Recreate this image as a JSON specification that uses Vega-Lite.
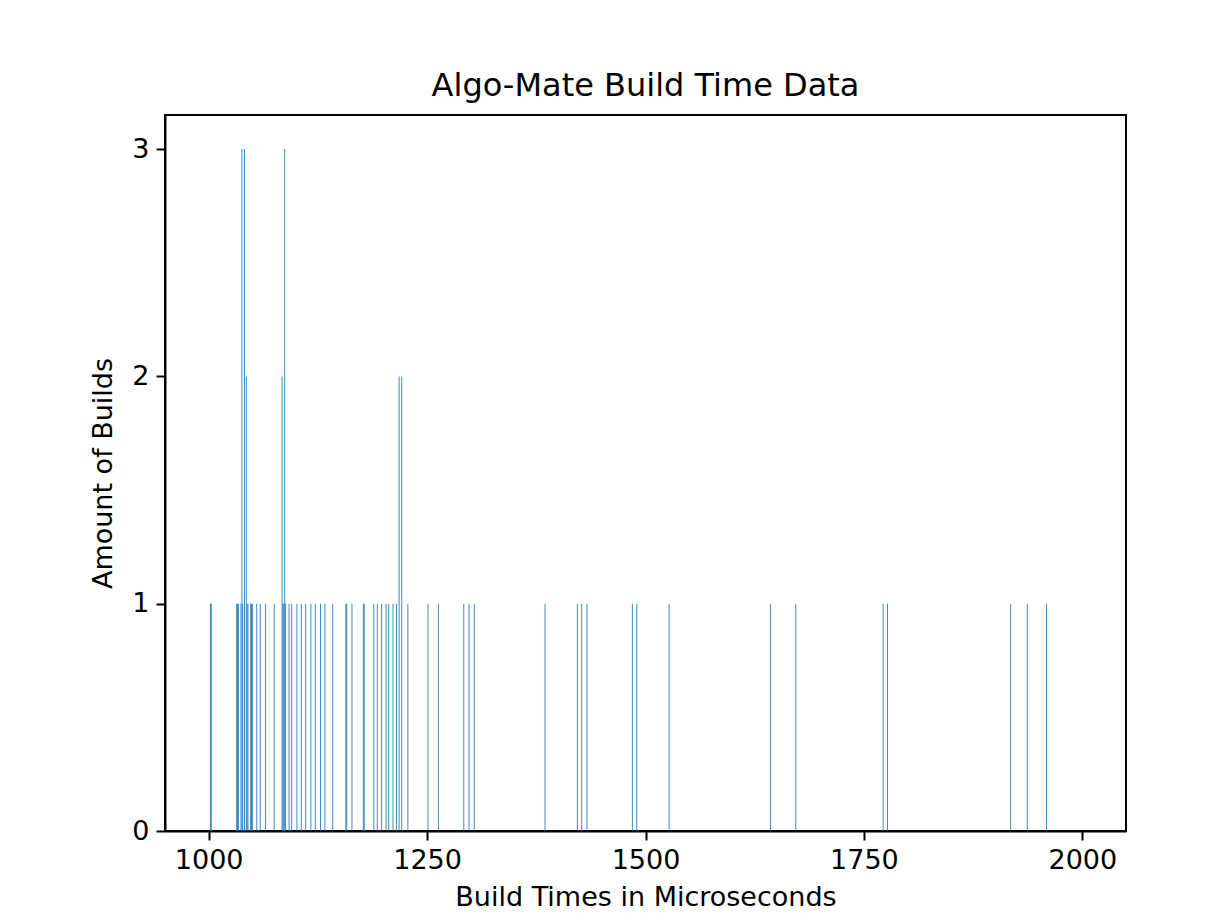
{
  "$schema": "https://vega.github.io/schema/vega-lite/v6.json",
  "width": 961,
  "height": 716,
  "autosize": "none",
  "padding": {"left": 165, "top": 115, "right": 100, "bottom": 93},
  "background": "white",
  "title": {
    "text": "Algo-Mate Build Time Data",
    "font": "DejaVu Sans",
    "fontSize": 32,
    "fontWeight": "normal",
    "color": "black",
    "offset": 12
  },
  "config": {
    "view": {"stroke": "black", "strokeWidth": 2},
    "axis": {
      "labelFont": "DejaVu Sans",
      "labelFontSize": 27,
      "labelColor": "black",
      "titleFont": "DejaVu Sans",
      "titleFontSize": 27,
      "titleFontWeight": "normal",
      "titleColor": "black",
      "tickColor": "black",
      "tickWidth": 2,
      "tickSize": 9,
      "labelPadding": 7,
      "domainColor": "black",
      "domainWidth": 2,
      "grid": false
    }
  },
  "data": {
    "values": [
      {"time": 1002, "count": 1}, {"time": 1003, "count": 1},
      {"time": 1032, "count": 1}, {"time": 1033, "count": 1}, {"time": 1034, "count": 1},
      {"time": 1037, "count": 1}, {"time": 1038, "count": 3}, {"time": 1039, "count": 1},
      {"time": 1041, "count": 3}, {"time": 1043, "count": 2}, {"time": 1044, "count": 1}, {"time": 1045, "count": 1},
      {"time": 1048, "count": 1}, {"time": 1049, "count": 1}, {"time": 1050, "count": 1},
      {"time": 1055, "count": 1}, {"time": 1059, "count": 1}, {"time": 1065, "count": 1}, {"time": 1075, "count": 1},
      {"time": 1084, "count": 2}, {"time": 1085, "count": 1}, {"time": 1086, "count": 1}, {"time": 1087, "count": 3}, {"time": 1088, "count": 1},
      {"time": 1092, "count": 1}, {"time": 1095, "count": 1}, {"time": 1101, "count": 1}, {"time": 1106, "count": 1},
      {"time": 1111, "count": 1}, {"time": 1117, "count": 1}, {"time": 1122, "count": 1}, {"time": 1128, "count": 1},
      {"time": 1133, "count": 1}, {"time": 1142, "count": 1}, {"time": 1157, "count": 1}, {"time": 1158, "count": 1},
      {"time": 1164, "count": 1}, {"time": 1177, "count": 1}, {"time": 1178, "count": 1},
      {"time": 1189, "count": 1}, {"time": 1193, "count": 1}, {"time": 1198, "count": 1}, {"time": 1203, "count": 1},
      {"time": 1206, "count": 1}, {"time": 1211, "count": 1}, {"time": 1215, "count": 1},
      {"time": 1218, "count": 2}, {"time": 1221, "count": 2},
      {"time": 1228, "count": 1}, {"time": 1251, "count": 1}, {"time": 1263, "count": 1},
      {"time": 1292, "count": 1}, {"time": 1298, "count": 1}, {"time": 1304, "count": 1},
      {"time": 1385, "count": 1}, {"time": 1422, "count": 1}, {"time": 1427, "count": 1}, {"time": 1433, "count": 1},
      {"time": 1485, "count": 1}, {"time": 1490, "count": 1}, {"time": 1527, "count": 1},
      {"time": 1643, "count": 1}, {"time": 1672, "count": 1}, {"time": 1772, "count": 1}, {"time": 1777, "count": 1},
      {"time": 1918, "count": 1}, {"time": 1937, "count": 1}, {"time": 1959, "count": 1}
    ]
  },
  "mark": {"type": "bar", "size": 1, "color": "#1f77b4", "opacity": 0.85},
  "encoding": {
    "x": {
      "field": "time",
      "type": "quantitative",
      "scale": {"domain": [950, 2050], "nice": false, "zero": false, "padding": 0},
      "axis": {"values": [1000, 1250, 1500, 1750, 2000], "format": "d", "title": "Build Times in Microseconds", "titlePadding": 11}
    },
    "y": {
      "field": "count",
      "type": "quantitative",
      "scale": {"domain": [0, 3.15], "nice": false},
      "axis": {"values": [0, 1, 2, 3], "format": "d", "title": "Amount of Builds", "titlePadding": 14}
    }
  }
}
